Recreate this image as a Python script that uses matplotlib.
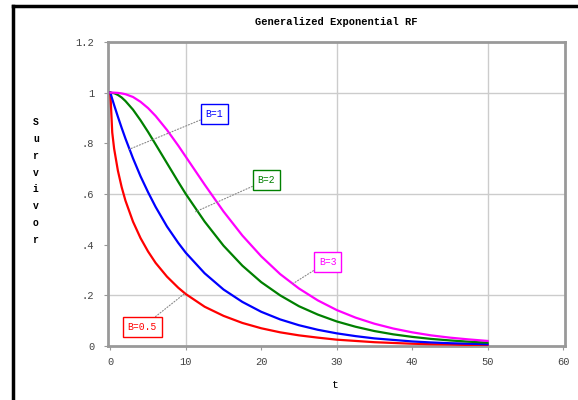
import matplotlib
matplotlib.use("Agg")
import matplotlib.pyplot as plt

# survival values
t = [0, 0.25, 0.5, 1, 1.5, 2, 3, 4, 5, 6, 7.5, 9, 10, 12.5, 15, 17.5, 20,
     22.5, 25, 27.5, 30, 32.5, 35, 37.5, 40, 42.5, 45, 47.5, 50]
s_b05 = [1, 0.843, 0.779, 0.692, 0.627, 0.574, 0.491, 0.426, 0.373, 0.328,
         0.274, 0.230, 0.205, 0.155, 0.119, 0.091, 0.070, 0.054, 0.042, 0.033,
         0.025, 0.020, 0.015, 0.012, 0.009, 0.007, 0.006, 0.004, 0.003]
s_b1 = [1, 0.975, 0.951, 0.905, 0.861, 0.819, 0.741, 0.670, 0.607, 0.549,
        0.472, 0.407, 0.368, 0.287, 0.223, 0.174, 0.135, 0.105, 0.082, 0.064,
        0.050, 0.039, 0.030, 0.024, 0.018, 0.014, 0.011, 0.009, 0.007]
s_b2 = [1, 0.999, 0.998, 0.991, 0.981, 0.967, 0.933, 0.891, 0.845, 0.796,
        0.722, 0.648, 0.600, 0.491, 0.396, 0.317, 0.252, 0.200, 0.157, 0.124,
        0.097, 0.076, 0.059, 0.046, 0.036, 0.028, 0.022, 0.017, 0.013]
s_b3 = [1, 1.0, 1.0, 0.999, 0.997, 0.994, 0.983, 0.964, 0.939, 0.908,
        0.853, 0.791, 0.747, 0.637, 0.531, 0.436, 0.354, 0.284, 0.227, 0.180,
        0.142, 0.112, 0.088, 0.069, 0.054, 0.042, 0.033, 0.026, 0.020]

labels = ["B=0.5", "B=1", "B=2", "B=3"]
colors = ["#ff0000", "#0000ff", "#008000", "#ff00ff"]
xticks = [0, 10, 20, 30, 40, 50, 60]
yticks = [0, 0.2, 0.4, 0.6, 0.8, 1.0, 1.2]
ytick_labels = ["0", ".2", ".4", ".6", ".8", "1", "1.2"]

mono = "Liberation Mono"

fig = plt.figure(figsize=(5.78, 4.0), dpi=100)
ax = fig.add_axes([0.187, 0.135, 0.791, 0.76])

for ys, c in zip([s_b05, s_b1, s_b2, s_b3], colors):
    ax.plot(t, ys, color=c, lw=1.6, zorder=3)

ax.set_xlim(-0.3, 60.3)
ax.set_ylim(0, 1.2)
ax.set_xticks(xticks)
ax.set_xticklabels([str(v) for v in xticks], fontfamily=mono, fontsize=7.5, color="#444444")
ax.set_yticks(yticks)
ax.set_yticklabels(ytick_labels, fontfamily=mono, fontsize=7.5, color="#444444")
ax.tick_params(axis="x", length=3, color="#999999", pad=5)
ax.tick_params(axis="y", length=3, color="#999999", pad=7)

# grid only on 10, 30, 50 and .2, .6, 1
for gx in [10, 30, 50]:
    ax.axvline(gx, color="#cccccc", lw=1, zorder=1)
for gy in [0.2, 0.6, 1.0]:
    ax.axhline(gy, color="#cccccc", lw=1, zorder=1)

for sp in ax.spines.values():
    sp.set_color("#999999")
    sp.set_linewidth(2)

# boxed labels with dotted leaders
ann = [("B=0.5", (9.8, 0.206), (4.25, 0.075), colors[0]),
       ("B=1", (2.3, 0.774), (13.8, 0.915), colors[1]),
       ("B=2", (11.3, 0.53), (20.7, 0.655), colors[2]),
       ("B=3", (24.2, 0.246), (28.8, 0.333), colors[3])]
for txt, xy, xytext, c in ann:
    ax.annotate(txt, xy=xy, xytext=xytext, ha="center", va="center",
                fontfamily=mono, fontsize=7, color=c, zorder=5,
                bbox=dict(boxstyle="square,pad=0.5", fc="white", ec=c, lw=1),
                arrowprops=dict(arrowstyle="-", color="#888888", lw=0.8,
                                linestyle=":", shrinkA=0, shrinkB=0))

ax.set_title("Generalized Exponential RF", fontfamily=mono, fontsize=7.5,
             fontweight="bold", pad=12)
fig.text(0.58, 0.03, "t", fontfamily=mono, fontsize=8, ha="center")
fig.text(0.062, 0.5475, "\n".join("Survivor"), fontfamily=mono, fontsize=7,
         fontweight="bold", ha="center", va="center", linespacing=1.85)

# window border on left and top
fig.add_artist(plt.Line2D([0.023, 0.023], [0, 0.985], color="black", lw=2.5,
                          transform=fig.transFigure))
fig.add_artist(plt.Line2D([0.023, 1], [0.985, 0.985], color="black", lw=2.5,
                          transform=fig.transFigure))

fig.savefig("out.png", dpi=100)
